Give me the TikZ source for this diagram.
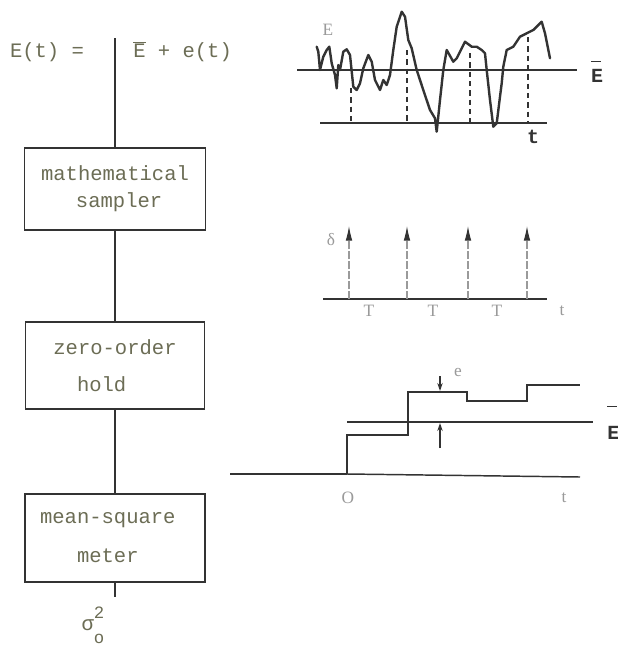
\documentclass[tikz,border=0pt]{standalone}
\usepackage{fontspec}
\setmainfont{Liberation Serif}
\newfontfamily\tw{Liberation Mono}
\usetikzlibrary{arrows.meta}
\definecolor{ink}{HTML}{333333}
\definecolor{type}{HTML}{6C6D55}
\definecolor{faint}{HTML}{9A9A9A}
% an E with a bar raised by #1 above its baseline
\newcommand{\barE}[1]{\rlap{\raisebox{#1}{\rule{7.5pt}{1.1pt}}}E}

\begin{document}
\begin{tikzpicture}[x=0.75pt,y=-0.75pt,
  wire/.style={draw=ink,line width=1.1pt},
  block/.style={draw=ink,line width=1.3pt,rectangle,inner sep=0pt,align=center,
    font=\tw\fontsize{15.4}{18.5}\selectfont,text=type},
  lbl/.style={font=\tw\fontsize{15.4}{18.5}\selectfont,text=type,inner sep=0pt},
  plotlbl/.style={font=\tw\bfseries\fontsize{15}{18}\selectfont,text=ink,inner sep=0pt},
  dimlbl/.style={font=\fontsize{13}{15}\selectfont,text=faint,inner sep=0pt},
  trace/.style={draw=ink,line width=1.8pt,line join=round,line cap=round},
  axis/.style={draw=ink,line width=1.3pt},
  probe/.style={draw=ink,line width=0.8pt,dash pattern=on 4pt off 3pt},
  impulse/.style={draw=faint,line width=0.8pt,dash pattern=on 6pt off 1.5pt,
    -{Latex[color=ink,length=11pt,width=5pt]}},
  gap/.style={draw=ink,line width=1pt,-{Stealth[length=6pt,width=4pt]}}
]
\useasboundingbox[fill=white] (0,0) rectangle (618,647);

% ---------------- block chain ----------------
\node[lbl] (sig) at (47,52) {E(t) =};
\node[lbl,anchor=west] (sum) at (133,52) {$\overline{\hbox{E}}$ + e(t)};
\coordinate (in) at (115,38);

\node[block,minimum width=135.75pt,minimum height=61.5pt] (b1) at (115,189)
  {mathematical\\[1.8pt]\hspace*{0.4em}sampler};
\node[block,minimum width=134.25pt,minimum height=65.25pt] (b2) at (115,365.5)
  {zero-order\\[9.3pt]hold\hspace*{1.3em}};
\node[block,minimum width=135pt,minimum height=66pt] (b3) at (115,538)
  {mean-square\hspace*{0.7em}\\[10.8pt]meter\hspace*{0.7em}};
\coordinate (out) at (115,597);

\draw[wire] (in) -- (b1.north);
\draw[wire] (b1.south) -- (b2.north);
\draw[wire] (b2.south) -- (b3.north);
\draw[wire] (b3.south) -- (out);

\node[lbl] (var) at (93,625)
  {σ\makebox[0pt][l]{\raisebox{9pt}{\fontsize{13}{15}\selectfont 2}}\raisebox{-10pt}{\fontsize{13}{15}\selectfont o}};

% ---------------- continuous signal ----------------
\draw[axis] (297,70) -- (577,70);
\draw[axis] (320,123) -- (547,123);
\draw[probe] (351,88) -- (351,123);
\draw[probe] (407,50) -- (407,123);
\draw[probe] (470,53) -- (470,123);
\draw[probe] (528,37) -- (528,123);
\draw[trace] plot coordinates {
  (316.7,46.7) (318.3,51.7) (320,70) (323.3,56.7) (326.7,50) (329.3,46.7)
  (331.7,63.3) (335,75) (336.7,88.3) (338.3,65) (340,70) (343.3,51.7)
  (346.7,49.3) (350,55) (353.3,86.7) (356.7,90) (360,83.3) (363.3,68.3)
  (368.3,55) (371.7,61.7) (375,80) (380,90) (383.3,80) (386.7,85) (390,75)
  (393.3,50) (396.7,26.7) (401.7,11.7) (405,16.7) (408.3,40) (411.7,48.3)
  (416.7,70) (423.3,90) (430,110) (435,118.3) (436.7,131.7) (440,100)
  (443.3,70) (446.7,50) (453.3,61.7) (456.7,58.3) (465,41.7) (471.7,46.7)
  (476.7,46.7) (481.7,50) (485,53.3) (486.7,70) (490,100) (493.3,126.7)
  (496.7,123.3) (500,96.7) (501.7,83.3) (503.3,66.7) (506.7,50) (513.3,46.7)
  (520,36.7) (526.7,33.3) (533.3,30) (541.7,21.7) (545,33.3) (550,58.3)};
\node[dimlbl] (elbl) at (328,30) {E};
\node[plotlbl,anchor=base] (ebar1) at (597,82) {\barE{15pt}};
\node[plotlbl] (t1) at (533,137) {t};

% ---------------- impulse train ----------------
\draw[axis] (323,299) -- (547,299);
\draw[impulse] (349,299) -- (349,226);
\draw[impulse] (407,299) -- (407,226);
\draw[impulse] (468,299) -- (468,226);
\draw[impulse] (527,299) -- (527,226);
\node[dimlbl] (dl) at (331,240) {δ};
\node[dimlbl] (T1) at (369,311) {T};
\node[dimlbl] (T2) at (433,311) {T};
\node[dimlbl] (T3) at (497,311) {T};
\node[dimlbl] (t2) at (562,311) {t};

% ---------------- held output ----------------
\draw[draw=ink,line width=1.8pt] (230,474) -- (347,474);
\draw[draw=ink,line width=1.1pt] (347,474) -- (580,477);
\draw[axis] (347,422) -- (593,422);
\draw[draw=ink,line width=1.6pt,line join=miter]
  (347,474) -- (347,435) -- (408,435) -- (408,392) -- (467,392)
  -- (467,401) -- (527,401) -- (527,385) -- (580,385);
\draw[gap] (440,376) -- (440,391);
\draw[gap] (440,448) -- (440,423);
\node[dimlbl] (el) at (458,372) {e};
\node[dimlbl] (orig) at (348,498) {O};
\node[dimlbl] (t3) at (564,498) {t};
\node[plotlbl,anchor=base west] (ebar2) at (607,439) {\barE{24pt}};
\end{tikzpicture}
\end{document}
